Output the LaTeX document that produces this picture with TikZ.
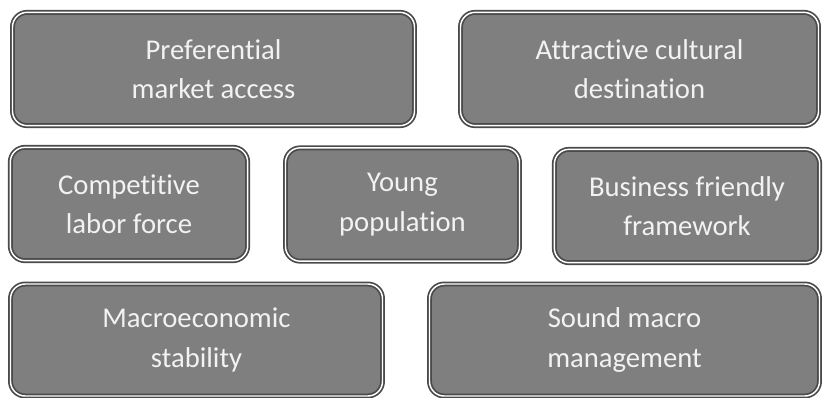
\documentclass[tikz,border=0pt]{standalone}
\usepackage{fontspec}
\setmainfont{Carlito}[Ligatures=NoCommon]
\usetikzlibrary{positioning}
\definecolor{boxfill}{HTML}{7F7F7F}
\definecolor{boxline}{HTML}{4A4A4A}
\definecolor{boxtext}{HTML}{F2F2F2}
\tikzset{
  factor/.style={draw=boxline,line width=1.3pt,double=white,double distance=1.1pt,
    fill=boxfill,rounded corners=11pt,align=center,text=boxtext,
    font=\fontsize{21.5}{29.5}\selectfont,inner sep=0pt,minimum height=85pt}
}

\begin{document}
\begin{tikzpicture}[x=0.75pt,y=-0.75pt]
\useasboundingbox (0,0) rectangle (823,397);
% top row
\node[factor,minimum width=301.5pt] (pma) at (213.5,69) {Preferential\\market access};
\node[factor,minimum width=268.5pt] (acd) at (639.5,69) {Attractive cultural\\destination};
% middle row
\node[factor,minimum width=178pt] (clf) at (129,204) {Competitive\\labor force};
\node[factor,minimum width=175.5pt] (yp) at (402.5,204.5) {Young\\population};
\node[factor,minimum width=199pt] (bff) at (687,206) {Business friendly\\framework};
% bottom row
\node[factor,minimum width=279pt,minimum height=84pt] (mes) at (196.5,340) {Macroeconomic\\stability};
\node[factor,minimum width=292.5pt,minimum height=84pt] (smm) at (624.5,340) {Sound macro\\management};
\end{tikzpicture}
\end{document}
